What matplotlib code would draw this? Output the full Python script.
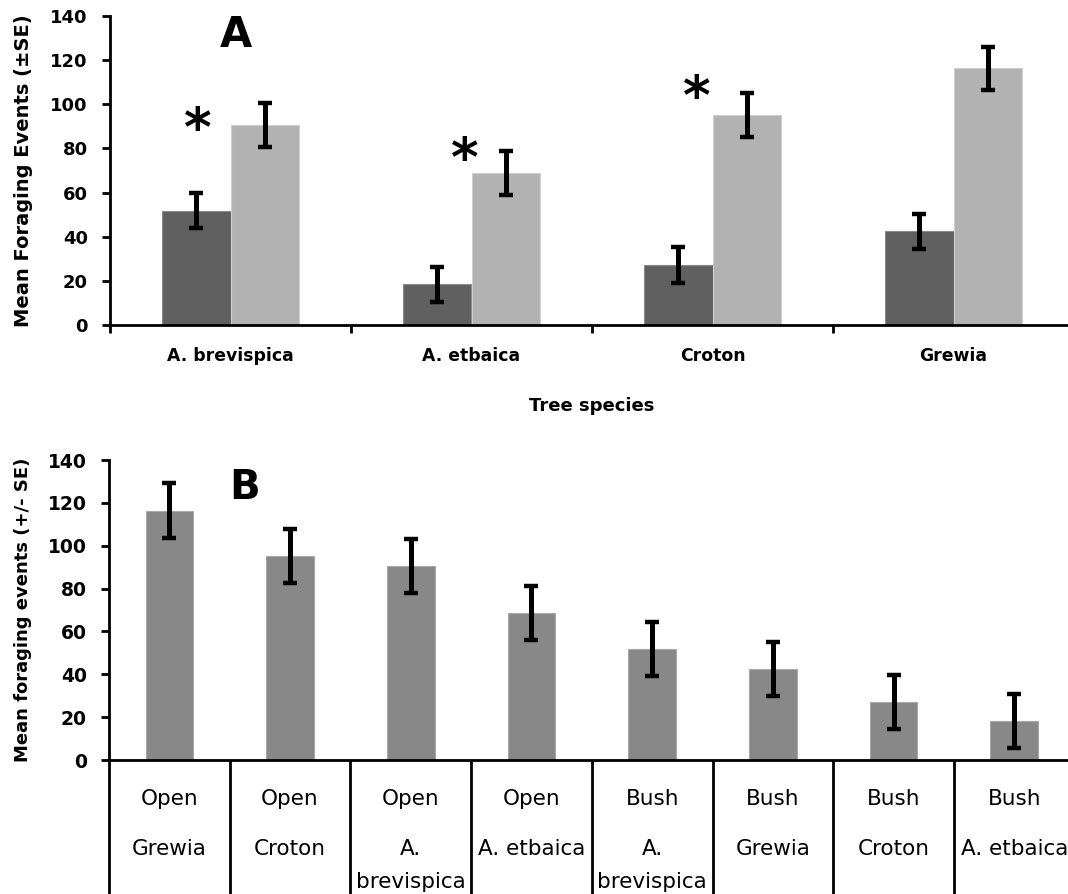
import matplotlib
matplotlib.use("Agg")
import matplotlib.pyplot as plt
import matplotlib.transforms as mtransforms
import numpy as np

# ---------------- data ----------------
species_a = ["A. brevispica", "A. etbaica", "Croton", "Grewia"]
bush_mean = [51.8, 18.4, 27.2, 42.4]
bush_se = [7.8, 8.0, 8.0, 7.9]
open_mean = [90.6, 68.8, 95.0, 116.3]
open_se = [10.0, 10.0, 9.9, 9.8]
star_x = [-0.135, 0.973, 1.933]
star_y = [92.2, 78.5, 106.5]

habitat_b = ["Open", "Open", "Open", "Open", "Bush", "Bush", "Bush", "Bush"]
species_b = ["Grewia", "Croton", "A.\nbrevispica", "A. etbaica",
             "A.\nbrevispica", "Grewia", "Croton", "A. etbaica"]
mean_b = [116.4, 95.2, 90.6, 68.8, 51.9, 42.4, 27.0, 18.0]
se_b = [12.7, 12.7, 12.7, 12.6, 12.6, 12.6, 12.6, 12.6]

yticks = [0, 20, 40, 60, 80, 100, 120, 140]

W, H = 1068, 894
fig = plt.figure(figsize=(W / 100, H / 100), dpi=100)

def px_axes(left, bottom, width, height):
    return fig.add_axes([left / W, 1 - bottom / H, width / W, height / H])

# ---------------- panel A ----------------
axA = px_axes(110, 325, 964, 309)
x = np.arange(len(species_a))
bw = 0.286
axA.bar(x - bw / 2, bush_mean, bw, color="#606060", edgecolor="#8a8a8a", linewidth=0.8, zorder=2)
axA.bar(x + bw / 2, open_mean, bw, color="#b2b2b2", edgecolor="#cfcfcf", linewidth=0.8, zorder=2)
ekw = dict(fmt="none", ecolor="black", elinewidth=3.6, capsize=4.8, capthick=3.2, zorder=3)
axA.errorbar(x - bw / 2, bush_mean, yerr=bush_se, **ekw)
axA.errorbar(x + bw / 2, open_mean, yerr=open_se, **ekw)
star_tr = mtransforms.offset_copy(axA.transData, fig=fig, x=0, y=-9.5, units="dots")
for sx, sy in zip(star_x, star_y):
    axA.text(sx, sy, "*", fontsize=38, fontweight="bold", ha="center", va="center",
             transform=star_tr)

axA.set_xlim(-0.5, len(species_a) - 0.5)
axA.set_ylim(0, 140)
axA.set_yticks(yticks)
axA.set_xticks(np.arange(len(species_a) + 1) - 0.5)
axA.set_xticklabels([])
axA.set_xticks(x, minor=True)
axA.set_xticklabels(species_a, minor=True, fontsize=12.4, fontweight="bold")
axA.tick_params(axis="x", which="minor", length=0, pad=16)
axA.tick_params(axis="x", which="major", length=6, width=2, direction="out")
axA.tick_params(axis="y", length=6, width=2, direction="out", pad=10)
for lab in axA.get_yticklabels():
    lab.set_fontsize(13)
    lab.set_fontweight("bold")
for s in ["top", "right"]:
    axA.spines[s].set_visible(False)
for s in ["left", "bottom"]:
    axA.spines[s].set_linewidth(2)
axA.set_ylabel("Mean Foraging Events (±SE)", fontsize=14, fontweight="bold")
axA.yaxis.set_label_coords((33 - 110) / 964, 0.5)
axA.set_xlabel("Tree species", fontsize=13, fontweight="bold")
axA.xaxis.set_label_coords((592 - 110) / 964, -(397 - 325) / 309)
axA.text(0.1307, 0.9385, "A", transform=axA.transAxes, fontsize=30, fontweight="bold",
         ha="center", va="center")

# ---------------- panel B ----------------
axB = px_axes(109, 760, 965.6, 300)
xb = np.arange(len(mean_b))
axB.bar(xb, mean_b, 0.395, color="#888888", edgecolor="#a8a8a8", linewidth=0.8, zorder=2)
axB.errorbar(xb, mean_b, yerr=se_b, **ekw)
axB.set_xlim(-0.5, len(mean_b) - 0.5)
axB.set_ylim(0, 140)
axB.set_yticks(yticks)
axB.set_xticks(np.arange(len(mean_b) + 1) - 0.5)
axB.set_xticklabels([])
axB.tick_params(axis="x", which="major", length=97, width=2, direction="out")
axB.tick_params(axis="y", length=6, width=2, direction="out", pad=10)
for lab in axB.get_yticklabels():
    lab.set_fontsize(13.5)
    lab.set_fontweight("bold")
for s in ["top", "right"]:
    axB.spines[s].set_visible(False)
for s in ["left", "bottom"]:
    axB.spines[s].set_linewidth(2)
axB.set_ylabel("Mean foraging events (+/- SE)", fontsize=13, fontweight="bold")
axB.yaxis.set_label_coords((32 - 109) / 965.6, 0.5)
axB.text(0.1408, 0.9067, "B", transform=axB.transAxes, fontsize=29, fontweight="bold",
         ha="center", va="center")

trB = mtransforms.blended_transform_factory(axB.transData, axB.transAxes)
for i, (hb, sp) in enumerate(zip(habitat_b, species_b)):
    axB.text(i, -(805 - 760) / 300, hb, transform=trB, fontsize=15.5, ha="center",
             va="baseline", clip_on=False)
    for j, line in enumerate(sp.split("\n")):
        axB.text(i, -(855 + 33 * j - 760) / 300, line, transform=trB, fontsize=15.5,
                 ha="center", va="baseline", clip_on=False)

fig.savefig("out.png", dpi=100)
